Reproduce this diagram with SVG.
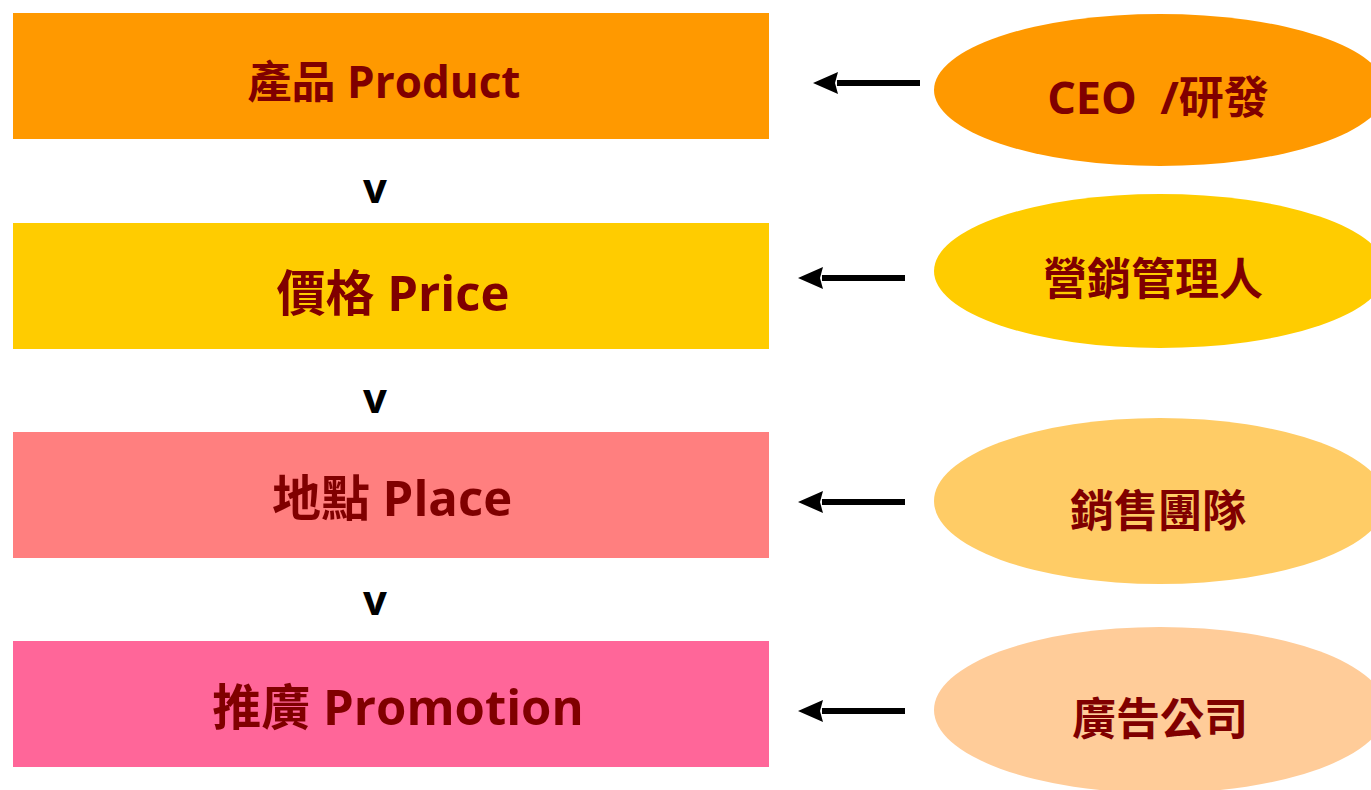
<svg xmlns="http://www.w3.org/2000/svg" width="1371" height="790" viewBox="0 0 1371 790">
<defs>
<style>
.lbl{font-family:"Open Sans","Noto Sans CJK TC",sans-serif;font-weight:bold;fill:#800000;text-anchor:middle;white-space:pre}
.v{font-family:"Open Sans","Noto Sans",sans-serif;font-weight:bold;fill:#000;text-anchor:middle;font-size:42px}
.conn{stroke:#000;stroke-width:6;fill:none}
</style>
<marker id="ah" markerWidth="25" markerHeight="22" refX="1" refY="11" orient="auto" markerUnits="userSpaceOnUse" viewBox="0 0 25 22">
<path d="M25,11 L0,0 L3,11 L0,22 Z" fill="#000"/>
</marker>
</defs>
<rect width="1371" height="790" fill="#fff"/>
<g id="product"><rect x="13" y="13" width="756" height="126" fill="#FF9900"/><text class="lbl" x="384" y="98" font-size="44">產品 Product</text></g>
<g id="price"><rect x="13" y="223" width="756" height="126" fill="#FFCC00"/><text class="lbl" x="393" y="311" font-size="49">價格 Price</text></g>
<g id="place"><rect x="13" y="432" width="756" height="126" fill="#FF7F7F"/><text class="lbl" x="392" y="516" font-size="49">地點 Place</text></g>
<g id="promotion"><rect x="13" y="641" width="756" height="126" fill="#FF6699"/><text class="lbl" x="398" y="725" font-size="49">推廣 Promotion</text></g>
<g id="v1"><text class="v" x="375" y="203">v</text></g>
<g id="v2"><text class="v" x="375" y="413">v</text></g>
<g id="v3"><text class="v" x="375" y="615">v</text></g>
<g id="ceo"><ellipse cx="1160" cy="90" rx="226" ry="76" fill="#FF9900"/><text class="lbl" x="1158" y="114" font-size="45" xml:space="preserve">CEO  /研發</text></g>
<g id="marketing"><ellipse cx="1160" cy="271" rx="226" ry="77" fill="#FFCC00"/><text class="lbl" x="1153" y="295" font-size="44">營銷管理人</text></g>
<g id="sales"><ellipse cx="1160" cy="501" rx="226" ry="83" fill="#FFCC66"/><text class="lbl" x="1158" y="527" font-size="44">銷售團隊</text></g>
<g id="ad"><ellipse cx="1160" cy="710" rx="226" ry="83" fill="#FFCC99"/><text class="lbl" x="1160" y="735" font-size="44">廣告公司</text></g>
<g id="connectors">
<line class="conn" x1="920" y1="83" x2="837" y2="83" marker-end="url(#ah)"/>
<line class="conn" x1="905" y1="278" x2="822" y2="278" marker-end="url(#ah)"/>
<line class="conn" x1="905" y1="502" x2="822" y2="502" marker-end="url(#ah)"/>
<line class="conn" x1="905" y1="711" x2="822" y2="711" marker-end="url(#ah)"/>
</g>
</svg>
